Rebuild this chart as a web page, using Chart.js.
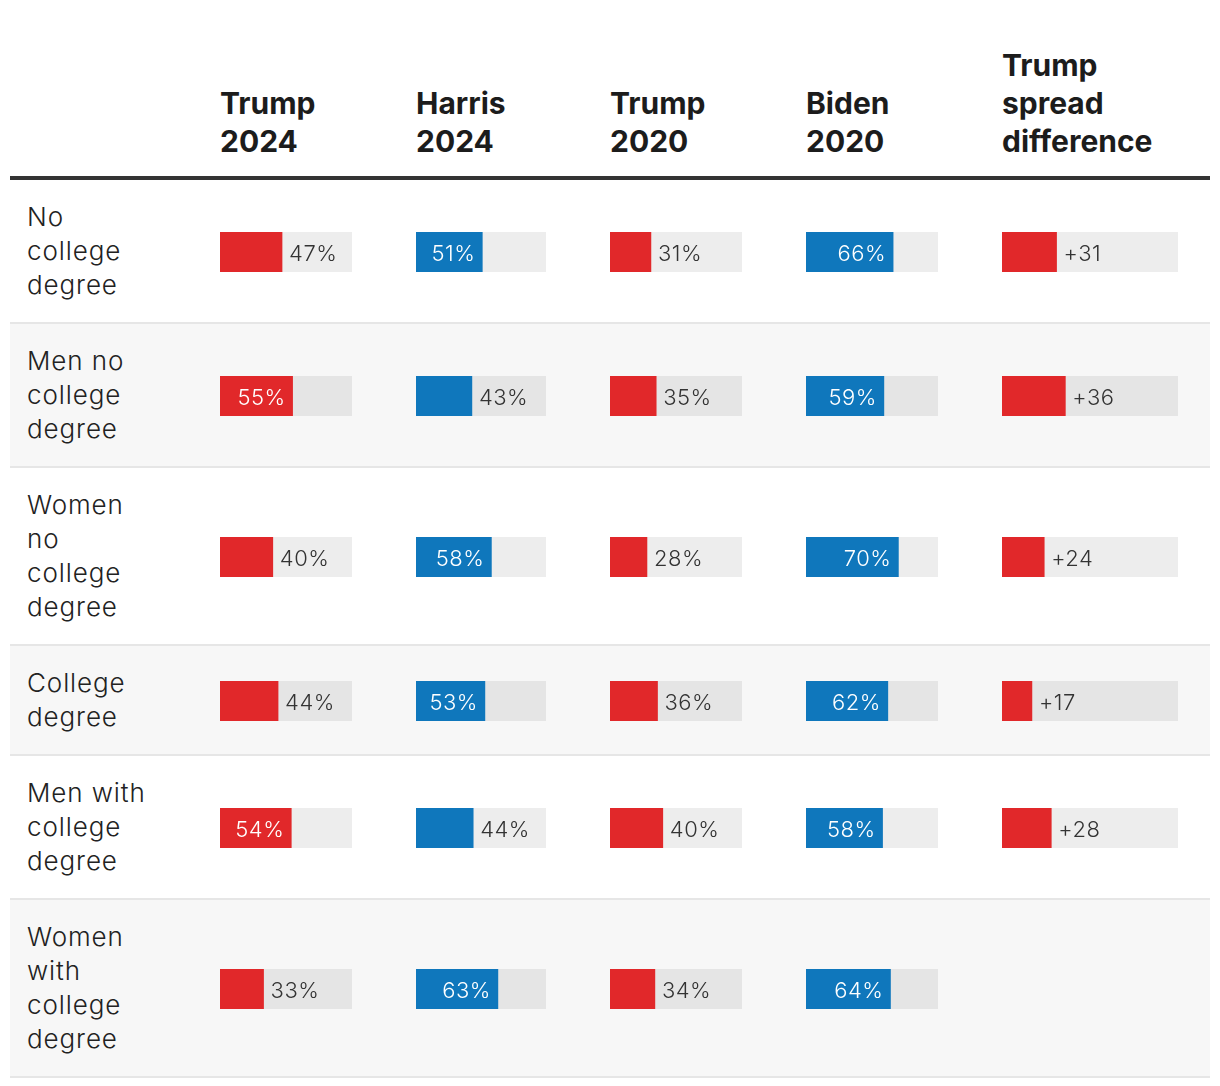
<!DOCTYPE html>
<html><head><meta charset="utf-8">
<script src="https://cdn.jsdelivr.net/npm/chart.js@4"></script>
<style>
html,body{margin:0;padding:0;background:#fff;}
body{width:1220px;height:1086px;overflow:hidden;font-family:Inter,sans-serif;position:relative;}
#tbl{position:absolute;left:10px;top:0;width:1200px;}
.row{display:grid;grid-template-columns:210px 196px 194px 196px 196px 208px;}
.head{height:160px;padding-bottom:16px;align-items:end;border-bottom:4px solid #333;}
.head div{font-weight:700;font-size:30px;line-height:38px;color:#1c1c1c;white-space:pre-line;}
.body{padding:20px 0;border-bottom:2px solid #e6e6e6;align-items:center;}
.body.alt{background:#f7f7f7;}
.lab{padding-left:17px;font-family:"Inter Light",Inter,sans-serif;font-size:26px;line-height:34px;font-weight:300;letter-spacing:0.9px;color:#222;white-space:pre-line;}
.cellc{padding-top:1px;}
canvas{display:block}
</style>
</head><body>
<div id="tbl"></div>
<script>
const groups = ["No\ncollege\ndegree","Men no\ncollege\ndegree","Women\nno\ncollege\ndegree","College\ndegree","Men with\ncollege\ndegree","Women\nwith\ncollege\ndegree"];
const columnTitles = ["Trump\n2024","Harris\n2024","Trump\n2020","Biden\n2020","Trump\nspread\ndifference"];
const trump2024 = [47,55,40,44,54,33];
const harris2024 = [51,43,58,53,44,63];
const trump2020 = [31,35,28,36,40,34];
const biden2020 = [66,59,70,62,58,64];
const spread = [31,36,24,17,28,null];

const RED = '#e1282a', BLUE = '#0f77bc';
const cols = [
  {vals: trump2024, color: RED, fmt: v => v + '%', w: 132},
  {vals: harris2024, color: BLUE, fmt: v => v + '%', w: 130},
  {vals: trump2020, color: RED, fmt: v => v + '%', w: 132},
  {vals: biden2020, color: BLUE, fmt: v => v + '%', w: 132},
  {vals: spread, color: RED, fmt: v => '+' + v, w: 176}
];

const trackPlugin = {
  id: 'track',
  beforeDatasetsDraw(chart) {
    const a = chart.chartArea, ctx = chart.ctx;
    ctx.save();
    ctx.fillStyle = 'rgba(0,0,0,0.07)';
    ctx.fillRect(a.left, a.top, a.right - a.left, a.bottom - a.top);
    ctx.restore();
  }
};
function labelPlugin(fmt) {
  return {
    id: 'vlabel',
    afterDatasetsDraw(chart) {
      const ctx = chart.ctx;
      const el = chart.getDatasetMeta(0).data[0];
      const v = chart.data.datasets[0].data[0];
      ctx.save();
      ctx.font = '300 22px "Inter Light", Inter, sans-serif';
      try { ctx.letterSpacing = '0.5px'; } catch (e) {}
      ctx.textBaseline = 'middle';
      const inside = v >= 50;
      if (inside) {
        ctx.fillStyle = '#ffffff';
        ctx.textAlign = 'right';
        ctx.fillText(fmt(v), el.x - 7, el.y + 2);
      } else {
        ctx.fillStyle = '#333333';
        ctx.textAlign = 'left';
        ctx.fillText(fmt(v), el.x + 7, el.y + 2);
      }
      ctx.restore();
    }
  };
}
function makeBar(canvas, value, color, fmt) {
  return new Chart(canvas, {
    type: 'bar',
    data: {labels: [''], datasets: [{data: [value], backgroundColor: color, borderWidth: 0, barPercentage: 1, categoryPercentage: 1}]},
    options: {
      indexAxis: 'y', responsive: false, animation: false, events: [],
      layout: {padding: 0},
      scales: {x: {display: false, min: 0, max: 100}, y: {display: false}},
      plugins: {legend: {display: false}, tooltip: {enabled: false}}
    },
    plugins: [trackPlugin, labelPlugin(fmt)]
  });
}

const tbl = document.getElementById('tbl');
const head = document.createElement('div');
head.className = 'row head';
head.appendChild(document.createElement('div'));
columnTitles.forEach(t => { const d = document.createElement('div'); d.textContent = t; head.appendChild(d); });
tbl.appendChild(head);

const pending = [];
groups.forEach((g, i) => {
  const r = document.createElement('div');
  r.className = 'row body' + (i % 2 === 1 ? ' alt' : '');
  const lab = document.createElement('div');
  lab.className = 'lab'; lab.textContent = g;
  r.appendChild(lab);
  cols.forEach(c => {
    const cell = document.createElement('div');
    cell.className = 'cellc';
    const v = c.vals[i];
    if (v !== null && v !== undefined) {
      const cv = document.createElement('canvas');
      cv.width = c.w; cv.height = 40;
      cv.style.width = c.w + 'px'; cv.style.height = '40px';
      cell.appendChild(cv);
      pending.push([cv, v, c.color, c.fmt]);
    }
    r.appendChild(cell);
  });
  tbl.appendChild(r);
});
function draw() { pending.forEach(p => makeBar(p[0], p[1], p[2], p[3])); }
if (document.fonts && document.fonts.load) {
  document.fonts.load('300 22px Inter').then(draw, draw);
} else draw();
</script>
</body></html>
